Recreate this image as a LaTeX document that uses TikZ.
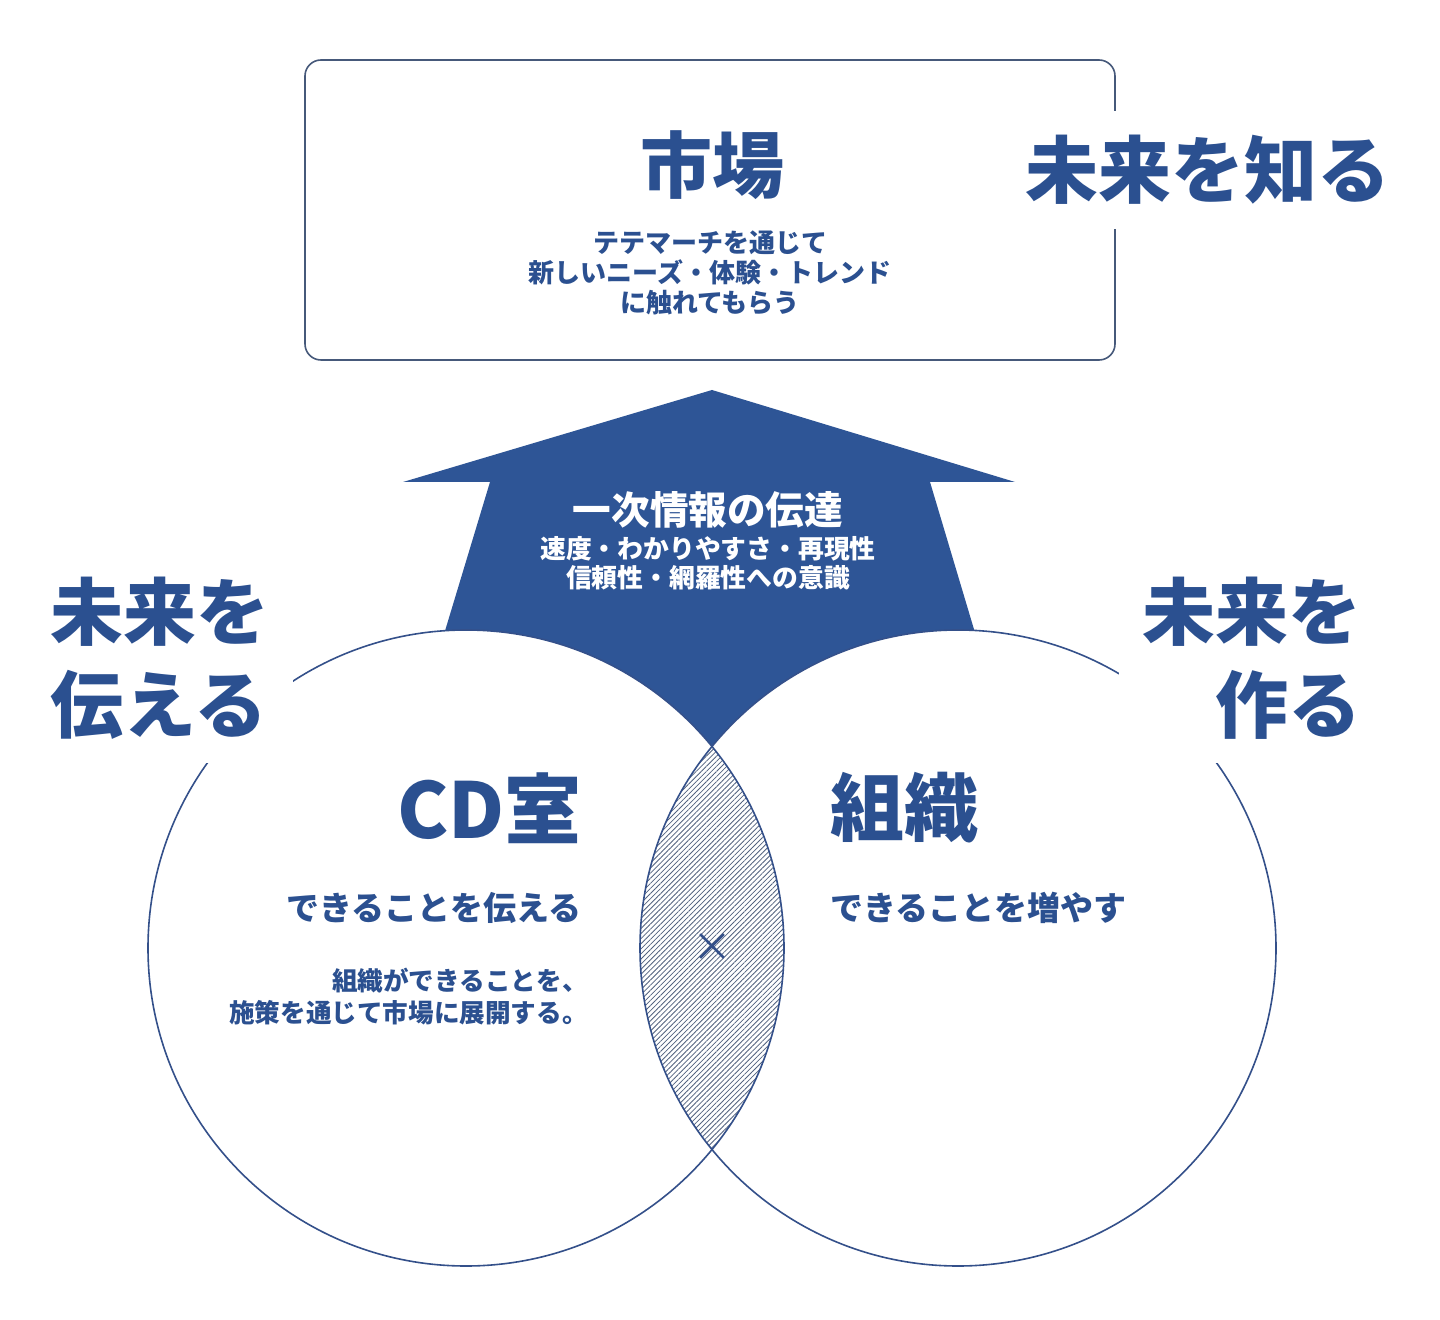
\documentclass[tikz,border=0pt]{standalone}
\usepackage{fontspec}
\newfontfamily\jp{Noto Sans CJK JP}
\usetikzlibrary{patterns.meta}
\definecolor{cdblue}{HTML}{2E5596}
\definecolor{cdtext}{HTML}{2B5090}
\definecolor{boxc}{HTML}{46597A}
\definecolor{circc}{HTML}{34508A}
\definecolor{hatchc}{HTML}{52627E}
\tikzset{
  txt/.style={inner sep=0pt, text=cdtext},
  bigtxt/.style={txt, font=\jp\bfseries\fontsize{36.5pt}{46.5pt}\selectfont},
  ring/.style={draw=circc, line width=0.8pt},
}
\begin{document}
\begin{tikzpicture}[x=0.5pt,y=-0.5pt]
\useasboundingbox (0,0) rectangle (1440,1320);
\fill[white] (0,0) rectangle (1440,1320);
% market box
\node[draw=boxc, line width=0.8pt, rounded corners=8pt, minimum width=405pt, minimum height=150pt, inner sep=0pt] (box) at (710,210) {};
% arrow
\fill[cdblue] (712,390) -- (1015,482) -- (930,482) -- (1013,760) -- (406,760) -- (490,482) -- (403,482) -- cycle;
% circles
\fill[white] (466,948) circle[radius=159pt];
\fill[white] (958,948) circle[radius=159pt];
\begin{scope}
  \clip (466,948) circle[radius=159pt];
  \fill[pattern={Lines[angle=45,distance=1.8pt,line width=0.4pt]}, pattern color=hatchc] (958,948) circle[radius=159pt];
\end{scope}
\draw[ring] (466,948) circle[radius=159pt];
\draw[ring] (958,948) circle[radius=159pt];
% texts
\node[txt, font=\jp\bfseries\fontsize{36pt}{44pt}\selectfont] (ichiba) at (712,165) {市場};
\node[txt, font=\jp\bfseries\fontsize{13pt}{15pt}\selectfont, align=center] (ichibasub) at (710,273) {テテマーチを通じて\\新しいニーズ・体験・トレンド\\に触れてもらう};
\node[bigtxt, fill=white, inner sep=12pt] (shiru) at (1208,170) {未来を知る};
\node[bigtxt, fill=white, inner sep=12pt, align=left, anchor=west] (tsutaeru) at (26,658) {未来を\\伝える};
\node[bigtxt, fill=white, inner sep=12pt, align=right, anchor=east] (tsukuru) at (1386,658) {未来を\\作る};
\node[txt, text=white, font=\jp\bfseries\fontsize{19.3pt}{22pt}\selectfont] (ichiji) at (708,510) {一次情報の伝達};
\node[txt, text=white, font=\jp\bfseries\fontsize{12.9pt}{14.5pt}\selectfont, align=center] (ichijisub) at (708,563.5) {速度・わかりやすさ・再現性\\信頼性・網羅性への意識};
\node[txt, font=\jp\bfseries\fontsize{38.5pt}{44pt}\selectfont, anchor=east] (cd) at (582,808) {CD室};
\node[txt, font=\jp\bfseries\fontsize{37pt}{44pt}\selectfont, anchor=west] (soshiki) at (830,808) {組織};
\node[txt, font=\jp\bfseries\fontsize{16.5pt}{20pt}\selectfont, anchor=east] (cdsub) at (582,908) {できることを伝える};
\node[txt, font=\jp\bfseries\fontsize{16.5pt}{20pt}\selectfont, anchor=west] (soshikisub) at (830,908) {できることを増やす};
\node[txt, font=\jp\bfseries\fontsize{12.8pt}{16pt}\selectfont, align=right, anchor=east] (cdnote) at (588,997) {組織ができることを、\\施策を通じて市場に展開する。};
\node[txt, text=circc, font=\jp\fontsize{20pt}{22pt}\selectfont] (kakeru) at (712,948) {×};
\end{tikzpicture}
\end{document}
